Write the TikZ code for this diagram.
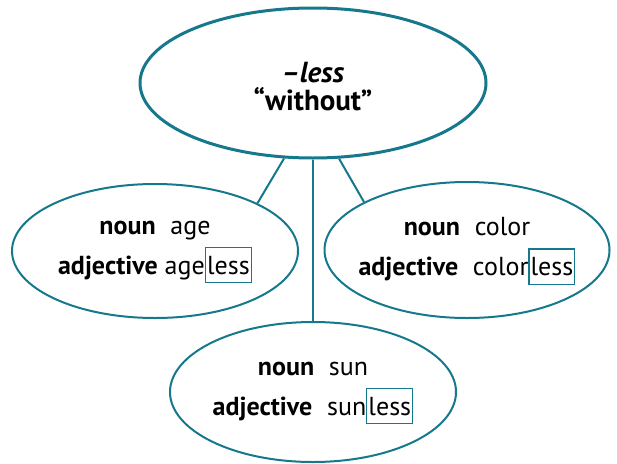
\documentclass[tikz,border=0pt]{standalone}
\usepackage{fontspec}
\setmainfont{PT Sans}
\usetikzlibrary{shapes.geometric}
\definecolor{lessteal}{RGB}{22,120,140}
\newcommand{\lessbox}{{\setlength{\fboxsep}{1pt}\setlength{\fboxrule}{1.2pt}\fcolorbox{lessteal}{white}{\rule[-7pt]{0pt}{32pt}less}}}

\begin{document}
\begin{tikzpicture}[x=1pt,y=-1pt,
    bubble/.style={draw=lessteal, line width=2pt, shape=ellipse, inner sep=0pt},
    words/.style={align=center, inner sep=0pt, font=\fontsize{26}{40}\selectfont},
    link/.style={draw=lessteal, line width=2pt}]
    \useasboundingbox (0,0) rectangle (617,463);

    % ellipses
    \node [bubble, line width=3pt, minimum width=346pt, minimum height=150pt] (suffix) at (313,83) {};
    \node [bubble, minimum width=286pt, minimum height=134pt] (age) at (155,251) {};
    \node [bubble, minimum width=285pt, minimum height=136pt] (color) at (467,250) {};
    \node [bubble, minimum width=286pt, minimum height=140pt] (sun) at (313,392) {};

    % texts
    \node [words, font=\fontsize{29}{28}\selectfont\bfseries] (suffixtext) at (313,87) {\textit{--less}\\``without''};
    \node [words] (agetext) at (155,252) {\textbf{noun}\hspace{0.3em} age\\\textbf{adjective} age\lessbox};
    \node [words] (colortext) at (467,251) {\textbf{noun}\hspace{0.3em} color\\\textbf{adjective}\hspace{0.3em} color\lessbox};
    \node [words] (suntext) at (313,393) {\textbf{noun}\hspace{0.3em} sun\\\textbf{adjective}\hspace{0.3em} sun\lessbox};

    % links
    \draw [link] (suffix.south) -- (sun.north);
    \draw [link] (suffix.249) -- (age.25);
    \draw [link] (suffix.289) -- (color.155);
\end{tikzpicture}
\end{document}
